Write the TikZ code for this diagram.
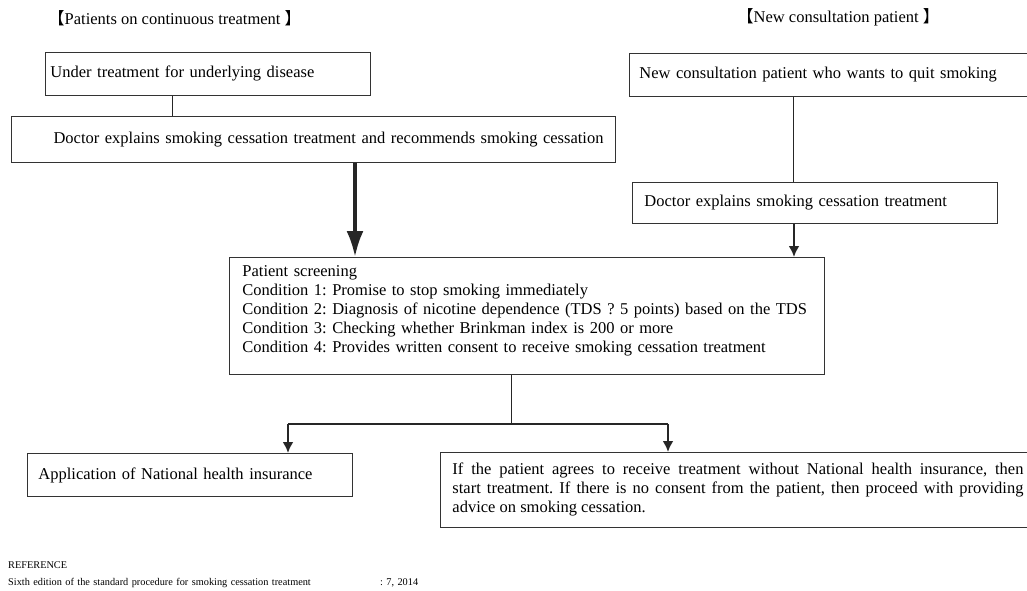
\documentclass[tikz,border=0pt]{standalone}
\usepackage{fontspec}
\setmainfont{Liberation Serif}
\newfontfamily\cjk{Noto Sans CJK SC}
\usepackage{tikz}
\usetikzlibrary{positioning,arrows.meta}
\frenchspacing

\begin{document}
\begin{tikzpicture}[
    x=1pt, y=-1pt,                      % one unit = one pixel of the original, y goes down
    font=\fontsize{16.5}{19}\selectfont,
    box/.style = {draw=black!80, line width=0.9pt, anchor=north west, align=left, inner ysep=0pt},
    link/.style = {draw=black!85, line width=0.9pt},
    flow/.style = {draw=black!85, line width=2.2pt, -{Latex[length=11pt,width=11pt]}},
    bigflow/.style = {draw=black!85, line width=3.5pt, -{Latex[length=26pt,width=17pt]}},
    heading/.style = {anchor=west, inner sep=0pt},
    note/.style = {anchor=west, inner sep=0pt, font=\fontsize{10.3}{12}\selectfont}
  ]
    \useasboundingbox (0,0) rectangle (1027,591);
    % Left column:
    \node[heading] (titleL) at (48,18) {{\cjk 【}Patients on continuous treatment {\cjk 】}};
    \node[box, text width=315pt, inner xsep=5pt, minimum height=43pt] (under) at (45,52) {Under treatment for underlying disease};
    \node[box, text width=580pt, inner xsep=12pt, minimum height=46pt, align=right] (explainL) at (11,116) {Doctor explains smoking cessation treatment and recommends smoking cessation};
    % Right column:
    \node[heading] (titleR) at (737,17) {{\cjk 【}New consultation patient {\cjk 】}};
    \node[box, text width=381pt, inner xsep=10pt, minimum height=43pt] (newpat) at (629,53) {New consultation patient who wants to quit smoking};
    \node[box, text width=341pt, inner xsep=12pt, minimum height=41pt] (explainR) at (632,182) {Doctor explains smoking cessation treatment};
    % Screening and the two outcomes
    \node[box, text width=569pt, inner xsep=13pt, minimum height=117pt] (screen) at (229,257) {Patient screening\\
      Condition 1: Promise to stop smoking immediately\\
      Condition 2: Diagnosis of nicotine dependence (TDS ? 5 points) based on the TDS\\
      Condition 3: Checking whether Brinkman index is 200 or more\\
      Condition 4: Provides written consent to receive smoking cessation treatment\\[-6pt]\mbox{}};
    \node[box, text width=303pt, inner xsep=11pt, minimum height=43pt] (insured) at (27,453) {Application of National health insurance};
    \node[box, text width=571pt, inner xsep=12pt, minimum height=75pt, align=justify] (uninsured) at (440,452) {If the patient agrees to receive treatment without National health insurance, then\linebreak start treatment. If there is no consent from the patient, then proceed with providing\linebreak advice on smoking cessation.};
    \node[note] (refhead) at (8,565) {REFERENCE};
    \node[note, text width=410pt, align=left] (refsrc) at (8,583) {Sixth edition of the standard procedure for smoking cessation treatment\hfill: 7, 2014};
    \coordinate[below=49pt of screen.south west, xshift=282pt] (split);

    \draw[link] ([xshift=127pt]under.south west) -- ([xshift=127pt]under.south west |- explainL.north);
    \draw[bigflow] ([xshift=344pt]explainL.south west) -- ([xshift=344pt]explainL.south west |- screen.north);
    \draw[link] ([xshift=164pt]newpat.south west) -- ([xshift=164pt]newpat.south west |- explainR.north);
    \draw[flow] ([xshift=162pt]explainR.south west) -- ([xshift=162pt]explainR.south west |- screen.north);
    % split below the screening box
    \draw[link] (split |- screen.south) -- (split);
    \draw[link, line width=1.4pt] ([xshift=261pt]insured.north west |- split) -- ([xshift=228pt]uninsured.north west |- split);
    \draw[flow] ([xshift=261pt]insured.north west |- split) -- ([xshift=261pt]insured.north west);
    \draw[flow] ([xshift=228pt]uninsured.north west |- split) -- ([xshift=228pt]uninsured.north west);
  \end{tikzpicture}
\end{document}
